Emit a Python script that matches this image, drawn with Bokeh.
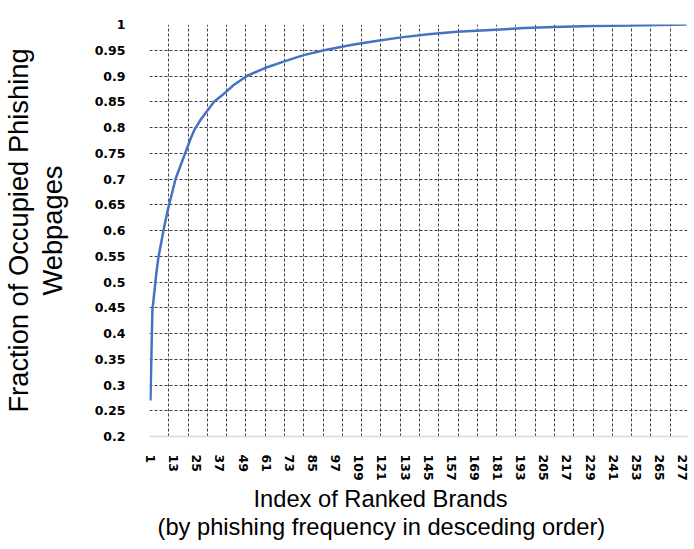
from bokeh.plotting import figure
from bokeh.models import FixedTicker, Range1d, Title
from bokeh.embed import file_html
from bokeh.resources import INLINE

# Curve: fraction of occupied phishing webpages vs. brand rank
brand_index = [1, 2, 3, 4, 5, 6, 7, 8, 10, 12, 14, 17, 19, 22, 24, 27, 30, 34, 38, 44,
               51, 60, 70, 80, 91, 105, 118, 131, 145, 160, 180, 195, 210, 230, 250, 265, 279]
fraction = [0.27, 0.445, 0.48, 0.515, 0.545, 0.565, 0.585, 0.605, 0.64, 0.67, 0.70, 0.73,
            0.75, 0.78, 0.797, 0.815, 0.83, 0.85, 0.862, 0.882,
            0.90, 0.915, 0.928, 0.94, 0.95, 0.96, 0.968, 0.975, 0.981, 0.986, 0.99,
            0.993, 0.995, 0.997, 0.998, 0.999, 1.0]

n_brands = 279
x_tick_labels = [1, 13, 25, 37, 49, 61, 73, 85, 97, 109, 121, 133, 145, 157, 169, 181,
                 193, 205, 217, 229, 241, 253, 265, 277]
y_tick_values = [0.2, 0.25, 0.3, 0.35, 0.4, 0.45, 0.5, 0.55, 0.6, 0.65, 0.7, 0.75, 0.8,
                 0.85, 0.9, 0.95, 1.0]
y_tick_labels = ["0.2", "0.25", "0.3", "0.35", "0.4", "0.45", "0.5", "0.55", "0.6",
                 "0.65", "0.7", "0.75", "0.8", "0.85", "0.9", "0.95", "1"]
grid_interval = 10
x_title_lines = ["Index of Ranked Brands", "(by phishing frequency in desceding order)"]

TITLE_FONT = "Liberation Sans"
TICK_FONT = "DejaVu Sans"

p = figure(width=690, height=542, output_backend="svg", toolbar_location=None,
           x_range=Range1d(0.5, n_brands + 0.5), y_range=Range1d(0.2, 1.0),
           min_border_left=149, min_border_right=3, min_border_top=24, min_border_bottom=106)
p.outline_line_color = None
p.background_fill_color = "white"
p.border_fill_color = "white"

p.line(brand_index, fraction, line_color="#4472C4", line_width=2.5)

# X axis
xa = p.xaxis[0]
xa.ticker = FixedTicker(ticks=x_tick_labels)
xa.major_label_orientation = "vertical"
xa.major_label_text_font = TICK_FONT
xa.major_label_text_font_style = "bold"
xa.major_label_text_font_size = "12.5px"
xa.major_label_text_color = "black"
xa.major_label_standoff = 12
xa.major_tick_line_color = None
xa.minor_tick_line_color = None
xa.axis_line_color = "#d9d9d9"
xa.axis_line_width = 1.5

# X axis title: two lines, placed off-centre as in the original
for line_text, left_offset, gap in zip(x_title_lines, [104, 8], [0, 1]):
    p.add_layout(Title(text=line_text, align="left", offset=left_offset,
                       text_font=TITLE_FONT, text_font_style="normal",
                       text_font_size="23.7px", text_color="black", standoff=gap), "below")

# Y axis
ya = p.yaxis[0]
ya.ticker = FixedTicker(ticks=y_tick_values)
ya.major_label_overrides = {v: s for v, s in zip(y_tick_values, y_tick_labels)}
ya.major_label_text_font = TICK_FONT
ya.major_label_text_font_style = "bold"
ya.major_label_text_font_size = "12.5px"
ya.major_label_text_color = "black"
ya.major_label_standoff = 18
ya.major_tick_line_color = None
ya.minor_tick_line_color = None
ya.axis_line_color = None
ya.axis_label = "Fraction of Occupied Phishing\nWebpages"
ya.axis_label_text_font = TITLE_FONT
ya.axis_label_text_font_style = "normal"
ya.axis_label_text_font_size = "27.3px"
ya.axis_label_text_line_height = 1.07
ya.axis_label_text_color = "black"
ya.axis_label_standoff = 24

# Grids: dashed, vertical lines between category groups
p.xgrid.ticker = FixedTicker(ticks=[0.5 + grid_interval * k for k in range(n_brands // grid_interval + 1)])
p.xgrid.grid_line_color = "#404040"
p.xgrid.grid_line_dash = "3 2"
p.xgrid.grid_line_width = 1
p.ygrid.grid_line_color = "#404040"
p.ygrid.grid_line_dash = "3 2"
p.ygrid.grid_line_width = 1

open("out.html", "w").write(file_html(p, INLINE))
